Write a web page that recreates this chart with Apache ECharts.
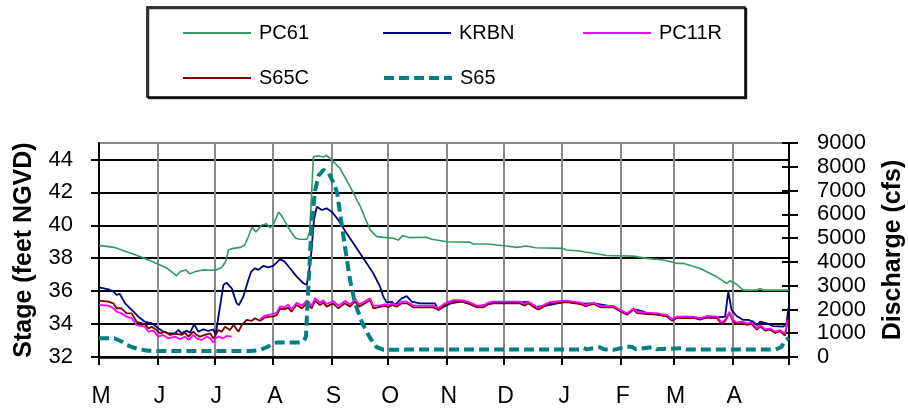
<!DOCTYPE html>
<html>
<head>
<meta charset="utf-8">
<script src="https://cdn.jsdelivr.net/npm/echarts@6/dist/echarts.min.js"></script>
<style>
  html, body { margin: 0; padding: 0; background: #fff; }
  #chart { width: 908px; height: 411px; }
</style>
</head>
<body>
<div id="chart"></div>
<script>
// Water year May..April, x measured in days from 1 May
const monthStarts = [0, 31, 61, 92, 123, 153, 184, 214, 245, 276, 304, 335, 365];
const monthLabels = ['M', 'J', 'J', 'A', 'S', 'O', 'N', 'D', 'J', 'F', 'M', 'A'];
const stageTicks = [32, 34, 36, 38, 40, 42, 44];

// PC61 stage (ft NGVD)
const pc61Days = [0, 4, 8, 13, 18, 23, 28, 32, 36, 39, 41, 43, 46, 48, 51, 55, 59, 62, 65, 67, 68.5, 71, 75, 77, 79, 81, 83, 86, 88.5, 90.5, 92, 95, 96.5, 99, 101, 104, 106, 110, 111.5, 112.5, 113.4, 116, 118.5, 120.4, 123, 127.5, 132.8, 138, 143.4, 147, 152, 155.7, 158.3, 160.6, 164.5, 173, 176, 184, 196, 198, 205, 206, 215.7, 221, 226, 231, 245, 247.4, 254, 261.5, 268.6, 282.6, 289.7, 298.5, 305.6, 309, 318, 326.8, 332, 333.8, 337.3, 340.8, 347.9, 349.7, 351.4, 365];
const pc61Stage = [38.78, 38.72, 38.66, 38.46, 38.26, 38.05, 37.8, 37.6, 37.39, 37.13, 36.93, 37.19, 37.29, 37.05, 37.19, 37.29, 37.27, 37.29, 37.45, 37.8, 38.5, 38.6, 38.66, 38.8, 39.3, 39.9, 39.6, 40.0, 40.1, 39.85, 40.0, 40.8, 40.6, 40.1, 39.7, 39.21, 39.15, 39.15, 39.6, 42.0, 44.17, 44.22, 44.15, 44.25, 43.98, 43.46, 42.35, 41.2, 39.72, 39.31, 39.25, 39.21, 39.1, 39.37, 39.25, 39.27, 39.15, 39.0, 38.98, 38.86, 38.86, 38.74, 38.74, 38.66, 38.74, 38.64, 38.6, 38.5, 38.44, 38.3, 38.17, 38.13, 37.99, 37.89, 37.69, 37.69, 37.38, 36.87, 36.47, 36.63, 36.42, 36.06, 36.06, 36.16, 36.06, 36.06];

// KRBN stage
const krbnDays = [0, 5, 7.6, 9.3, 11, 13.8, 17.3, 20.8, 24.3, 27.9, 31.4, 34, 36.7, 40.2, 42, 43.7, 46.4, 48.2, 50.4, 52.5, 55.2, 57.8, 60.5, 61.7, 64, 65.8, 67.5, 70.2, 72.8, 74, 76.3, 79, 80.5, 82.5, 84.3, 86.9, 89.6, 92.2, 95.7, 98.3, 101, 104.6, 108.1, 109.9, 112, 113.7, 115.2, 117.8, 120.4, 123.1, 126.6, 131, 136.3, 141.6, 145.1, 148.6, 150.4, 152.2, 155, 156.6, 160.1, 162.8, 165.4, 169.8, 177.7, 179.5, 182, 185.7, 192, 200, 208, 222, 227, 231, 236, 247, 255, 262, 272, 279, 283, 287, 290, 300, 303, 306, 318, 326.8, 331.2, 332.9, 334.6, 337.3, 340.8, 343.4, 346.1, 348, 349.7, 353.2, 356.7, 362, 363.7, 364.6];
const krbnStage = [36.23, 36.11, 35.97, 35.77, 35.83, 35.26, 34.86, 34.45, 34.14, 34.05, 33.74, 33.54, 33.44, 33.44, 33.64, 33.44, 33.6, 33.48, 34.0, 33.54, 33.68, 33.58, 33.68, 33.34, 35.06, 36.37, 36.52, 36.17, 35.26, 35.15, 35.66, 36.68, 37.19, 37.39, 37.29, 37.53, 37.45, 37.53, 37.93, 37.79, 37.39, 36.88, 36.48, 36.37, 37.89, 40.32, 41.13, 40.93, 41.03, 40.83, 40.32, 39.51, 38.6, 37.69, 37.08, 36.3, 35.66, 35.32, 35.35, 35.16, 35.56, 35.7, 35.36, 35.26, 35.26, 34.86, 35.02, 35.24, 35.38, 35.06, 35.28, 35.3, 35.36, 35.05, 35.1, 35.36, 35.24, 35.26, 35.06, 34.62, 34.9, 34.8, 34.66, 34.5, 34.24, 34.4, 34.38, 34.4, 34.45, 35.97, 34.86, 34.49, 34.25, 34.25, 34.15, 33.94, 34.15, 34.04, 33.88, 33.84, 34.04, 34.96];

// S65C stage
const s65cDays = [0, 4.9, 7.6, 9.3, 11.9, 14.6, 17.3, 19.9, 24.3, 26.1, 27.9, 30.5, 32.3, 34.9, 37.6, 41.1, 43.7, 45.5, 47.3, 49.9, 51.7, 53.4, 56.1, 58.8, 60.5, 61.7, 63.1, 64.9, 66.7, 69.3, 71.1, 73.8, 75.5, 78.1, 80.8, 82.5, 85.2, 87.8, 90.5, 92.2, 94, 95.7, 98.3, 100.1, 101.8, 104.5, 107.2, 109.9, 112.5, 114.3, 116.9, 118.7, 120.4, 123.9, 126.6, 127.5, 130.1, 132.8, 135.4, 137.7, 140.7, 143.4, 145.1, 148.6, 151.3, 153, 155, 157.5, 160.1, 162.8, 166.3, 176.9, 179.5, 183, 187.4, 191.8, 195.3, 199.7, 203.3, 205.9, 208.5, 222.6, 225.3, 227, 230.6, 232.4, 235, 238.5, 243.8, 247.5, 254.6, 257.2, 261.6, 265.2, 272.2, 275.7, 279.3, 282.8, 284.6, 289.9, 295.2, 300.5, 303.1, 305.7, 314.4, 318, 321.5, 326.8, 329.4, 331.2, 333.5, 335.3, 337.3, 340, 342.7, 345.3, 348, 349.7, 352.4, 355, 357.7, 360.3, 362.9, 364.2, 365];
const s65cStage = [35.42, 35.36, 35.26, 34.96, 34.96, 34.65, 34.65, 34.14, 34.0, 33.74, 33.84, 33.64, 33.44, 33.54, 33.34, 33.4, 33.34, 33.48, 33.24, 33.54, 33.34, 33.24, 33.34, 33.44, 33.13, 33.34, 33.64, 33.54, 33.84, 33.64, 33.94, 33.54, 33.94, 34.25, 34.2, 34.35, 34.2, 34.4, 34.45, 34.45, 34.55, 34.93, 34.9, 35.0, 34.75, 35.16, 34.96, 35.26, 34.96, 35.42, 35.16, 35.3, 35.06, 35.26, 34.96, 34.86, 35.26, 35.06, 35.36, 35.06, 35.26, 35.46, 34.96, 35.04, 35.1, 35.02, 35.16, 35.06, 35.26, 35.26, 35.02, 35.02, 34.86, 35.16, 35.36, 35.36, 35.26, 35.02, 35.02, 35.2, 35.26, 35.26, 35.12, 35.26, 35.0, 34.88, 35.04, 35.24, 35.3, 35.34, 35.22, 35.08, 35.22, 35.02, 35.02, 34.78, 34.57, 34.88, 34.67, 34.61, 34.57, 34.47, 34.21, 34.37, 34.37, 34.27, 34.41, 34.37, 34.0, 34.17, 34.67, 34.17, 34.0, 34.07, 33.96, 34.0, 33.66, 33.86, 33.6, 33.66, 33.46, 33.56, 33.3, 34.17, 34.4];

// PC11R stage (null = no record)
const pc11rDays = [0, 4.9, 7.6, 9.3, 11.9, 14.6, 17.3, 19.9, 24.3, 26.1, 28.8, 31.4, 34, 36.7, 40.2, 42.8, 45.5, 47.3, 49.9, 51.7, 54.3, 57, 58.8, 60.5, 61.7, 63.1, 65.8, 67.5, 70.2, 76, 85.2, 87.8, 90.5, 92.2, 94, 95.7, 98.3, 100.1, 101.8, 104.5, 107.2, 109.9, 112.5, 114.3, 116.9, 118.7, 120.4, 123.9, 126.6, 127.5, 130.1, 132.8, 135.4, 137.7, 140.7, 143.4, 145.1, 148.6, 151.3, 153, 155, 157.5, 160.1, 162.8, 166.3, 176.9, 179.5, 183, 187.4, 191.8, 195.3, 199.7, 203.3, 205.9, 208.5, 222.6, 225.3, 227, 230.6, 232.4, 235, 238.5, 243.8, 247.5, 254.6, 257.2, 261.6, 265.2, 272.2, 275.7, 279.3, 282.8, 284.6, 289.9, 295.2, 300.5, 303.1, 305.7, 314.4, 318, 321.5, 326.8, 329.4, 331.2, 333.5, 335.3, 337.3, 340, 342.7, 345.3, 348, 349.7, 352.4, 355, 357.7, 360.3, 362.9, 364.2];
const pc11rStage = [35.16, 35.12, 34.96, 34.75, 34.65, 34.45, 34.35, 33.94, 33.84, 33.54, 33.6, 33.24, 33.34, 33.13, 33.24, 33.08, 33.24, 33.03, 33.34, 33.13, 33.03, 33.24, 33.13, 32.87, 33.13, 33.24, 33.13, 33.28, 33.24, null, 34.3, 34.52, 34.58, 34.6, 34.7, 35.08, 35.02, 35.18, 34.9, 35.3, 35.12, 35.42, 35.12, 35.58, 35.32, 35.44, 35.22, 35.4, 35.12, 35.0, 35.4, 35.2, 35.5, 35.2, 35.38, 35.56, 35.1, 35.14, 35.2, 35.12, 35.26, 35.16, 35.36, 35.36, 35.12, 35.12, 34.96, 35.26, 35.46, 35.46, 35.36, 35.12, 35.12, 35.3, 35.36, 35.36, 35.22, 35.36, 35.1, 34.98, 35.14, 35.34, 35.4, 35.42, 35.3, 35.16, 35.3, 35.1, 35.1, 34.86, 34.65, 34.96, 34.75, 34.69, 34.65, 34.55, 34.29, 34.45, 34.45, 34.35, 34.49, 34.45, 34.09, 34.25, 34.75, 34.25, 34.09, 34.15, 34.04, 34.09, 33.74, 33.94, 33.68, 33.74, 33.54, 33.64, 33.4, 34.25];

// S65 discharge (cfs)
const s65Days = [0, 8, 12, 14.6, 18, 21.7, 26, 35, 50, 65, 80, 85, 88.7, 91, 94, 100, 106.3, 108.5, 109.5, 110.2, 111.3, 112.5, 114.3, 116.3, 118.8, 121.6, 124.5, 126, 127.8, 130.1, 132.8, 135.4, 139.4, 143.4, 146.9, 150.4, 160, 170, 189, 190, 191, 254, 256, 258, 265, 267, 272, 274, 279, 282, 284, 293, 295, 309, 311, 358, 361, 362.9, 365];
const s65Flow = [790, 790, 650, 510, 400, 320, 260, 250, 250, 250, 255, 290, 410, 510, 610, 615, 615, 700, 860, 2100, 3800, 5620, 7000, 7650, 7870, 7730, 7250, 6880, 5900, 4640, 3240, 2260, 1400, 800, 410, 310, 310, 320, 320, 400, 320, 320, 390, 320, 410, 330, 300, 330, 440, 420, 330, 420, 330, 370, 320, 320, 420, 700, 800];

function pairs(days, vals) {
  return days.map((d, i) => [d, vals[i] == null ? '-' : vals[i]]);
}

const FONT = '"Liberation Sans", Arial, Helvetica, sans-serif';

// legend entries: name, left, top, icon line width (two rows inside the framed box)
const legendSlots = [
  ['PC61', 182, 23, 2], ['KRBN', 382, 23, 2], ['PC11R', 582, 23, 2],
  ['S65C', 182, 68, 2], ['S65', 382, 68, 4]
];

const chart = echarts.init(document.getElementById('chart'), null, { renderer: 'canvas' });

chart.setOption({
  animation: false,
  backgroundColor: '#ffffff',
  textStyle: { fontFamily: FONT, color: '#000' },
  grid: {
    left: 99, right: 119, top: 143, bottom: 54,
    outerBoundsMode: 'none', containLabel: false,
    show: true, borderColor: '#8a8a8a', borderWidth: 2, backgroundColor: 'transparent'
  },
  graphic: [{
    type: 'rect', z: 1, silent: true,
    shape: { x: 147, y: 7, width: 598, height: 90 },
    style: {
      fill: '#fff', stroke: '#000', lineWidth: 1.5,
      shadowColor: 'rgba(0,0,0,0.8)', shadowOffsetX: 1.5, shadowOffsetY: 1.5, shadowBlur: 0
    }
  }],
  legend: legendSlots.map(([name, left, top, w]) => ({
    data: [name], left, top, z: 10, padding: 0,
    selectedMode: false,
    itemWidth: 68, itemHeight: 20,
    itemStyle: { opacity: 0, borderWidth: 0 },
    lineStyle: { width: w },
    textStyle: { fontFamily: FONT, fontSize: 20, color: '#000', padding: [0, 0, 0, 3] }
  })),
  xAxis: {
    type: 'value', min: 0, max: 365,
    axisLine: { lineStyle: { color: '#000', width: 2.5 } },
    axisTick: { show: true, customValues: monthStarts, length: 8, lineStyle: { color: '#000', width: 2 } },
    axisLabel: {
      customValues: monthStarts.slice(0, 12),
      formatter: v => monthLabels[monthStarts.indexOf(v)] || '',
      fontFamily: FONT, fontSize: 23, color: '#000', margin: 28, padding: [0, 0, 0, 4]
    },
    splitLine: { show: true, lineStyle: { color: '#8a8a8a', width: 2 } }
  },
  yAxis: [
    {
      type: 'value', position: 'left', min: 32, max: 45,
      name: 'Stage (feet NGVD)', nameLocation: 'middle', nameGap: 62,
      nameTextStyle: { fontFamily: FONT, fontSize: 25, fontWeight: 'bold', color: '#000' },
      axisLine: { show: true, lineStyle: { color: '#000', width: 2 } },
      axisTick: { show: true, customValues: stageTicks, length: 8, lineStyle: { color: '#000', width: 2 } },
      axisLabel: { customValues: stageTicks, fontFamily: FONT, fontSize: 22, color: '#000', margin: 26 },
      splitLine: { show: true, lineStyle: { color: '#000', width: 2 } }
    },
    {
      type: 'value', position: 'right', min: 0, max: 9000, interval: 1000,
      name: 'Discharge (cfs)', nameLocation: 'middle', nameGap: 92,
      nameTextStyle: { fontFamily: FONT, fontSize: 25, fontWeight: 'bold', color: '#000' },
      axisLine: { show: true, lineStyle: { color: '#000', width: 2 } },
      axisTick: { show: true, length: 9, lineStyle: { color: '#000', width: 2 } },
      axisLabel: { formatter: v => String(v), fontFamily: FONT, fontSize: 22, color: '#000', margin: 28 },
      splitLine: { show: false }
    },
    {
      // inner half of the cross ticks on the discharge axis
      type: 'value', position: 'right', min: 0, max: 9000, interval: 1000,
      axisLine: { show: false },
      axisTick: { show: true, inside: true, length: 7, lineStyle: { color: '#000', width: 2 } },
      axisLabel: { show: false },
      splitLine: { show: false }
    }
  ],
  series: [
    {
      name: 'PC61', type: 'line', yAxisIndex: 0, symbol: 'none', z: 3,
      lineStyle: { color: '#339966', width: 1.6 }, itemStyle: { color: '#339966' },
      data: pairs(pc61Days, pc61Stage)
    },
    {
      name: 'KRBN', type: 'line', yAxisIndex: 0, symbol: 'none', z: 4,
      lineStyle: { color: '#000080', width: 1.8 }, itemStyle: { color: '#000080' },
      data: pairs(krbnDays, krbnStage)
    },
    {
      name: 'S65C', type: 'line', yAxisIndex: 0, symbol: 'none', z: 5,
      lineStyle: { color: '#800000', width: 1.8 }, itemStyle: { color: '#800000' },
      data: pairs(s65cDays, s65cStage)
    },
    {
      name: 'PC11R', type: 'line', yAxisIndex: 0, symbol: 'none', z: 6, connectNulls: false,
      lineStyle: { color: '#ff00ff', width: 1.8 }, itemStyle: { color: '#ff00ff' },
      data: pairs(pc11rDays, pc11rStage)
    },
    {
      name: 'S65', type: 'line', yAxisIndex: 1, symbol: 'none', z: 7,
      lineStyle: { color: '#008080', width: 4, type: [10, 5] }, itemStyle: { color: '#008080' },
      data: pairs(s65Days, s65Flow)
    }
  ]
});
</script>
</body>
</html>
